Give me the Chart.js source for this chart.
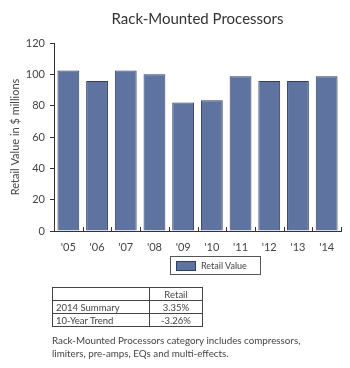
<!DOCTYPE html>
<html>
<head>
<meta charset="utf-8">
<script src="https://cdn.jsdelivr.net/npm/chart.js@4/dist/chart.umd.min.js"></script>
<style>
  body { margin: 0; background: #fff; font-family: Lato, "Noto Sans", sans-serif; color: #333; }
  #wrap { position: relative; width: 350px; height: 368px; }
  #chart { position: absolute; left: 0; top: 0; }
  #legend { position: absolute; left: 170px; top: 256px; width: 91px; height: 19px; border: 1px solid #555; box-sizing: border-box; font-size: 9px; color: #444; }
  #legend span.sw { position: absolute; left: 5px; top: 4px; width: 20px; height: 10px; background: #5f73a0; border: 1px solid #2e3d63; box-sizing: border-box; }
  #legend span.tx { position: absolute; left: 30px; top: 3px; }
  table { position: absolute; left: 52px; top: 287px; border-collapse: collapse; font-size: 9.5px; color: #444; }
  td { border: 1px solid #444; height: 12px; padding: 0 3px; line-height: 11px; }
  td.c1 { width: 90px; }
  td.c2 { width: 46px; text-align: center; }
  #note { position: absolute; left: 52px; top: 334px; width: 262px; font-size: 9.8px; line-height: 13px; color: #444; }
</style>
</head>
<body>
<div id="wrap">
  <canvas id="chart" width="350" height="260"></canvas>
  <div id="legend"><span class="sw"></span><span class="tx">Retail Value</span></div>
  <table>
    <tr><td class="c1"></td><td class="c2">Retail</td></tr>
    <tr><td class="c1">2014 Summary</td><td class="c2">3.35%</td></tr>
    <tr><td class="c1">10-Year Trend</td><td class="c2">-3.26%</td></tr>
  </table>
  <div id="note">Rack-Mounted Processors category includes compressors, limiters, pre-amps, EQs and multi-effects.</div>
</div>
<script>
var years = ["'05", "'06", "'07", "'08", "'09", "'10", "'11", "'12", "'13", "'14"];
var retailValue = [102.5, 95.7, 102.5, 100, 82, 83.5, 98.7, 95.7, 95.7, 98.7];
var yTicks = [0, 20, 40, 60, 80, 100, 120];

// little upward tick marks between the bars on the x axis
var upTicks = {
	id: 'upTicks',
	afterDraw: function(chart){
		var x = chart.scales.x;
		var ctx = chart.ctx;
		var y0 = x.top;
		ctx.save();
		ctx.strokeStyle = '#333';
		ctx.lineWidth = 1;
		ctx.beginPath();
		for(var i = 0; i < years.length; i++){
			var px = (x.getPixelForValue(i) + x.getPixelForValue(i + 1)) / 2;
			if(i == years.length - 1) px = x.right;
			px = Math.round(px) + 0.5;
			ctx.moveTo(px, y0);
			ctx.lineTo(px, y0 - 4);
		}
		ctx.stroke();
		ctx.restore();
	}
};

var ctx = document.getElementById('chart').getContext('2d');
var myChart = new Chart(ctx, {
	type: 'bar',
	data: {
		labels: years,
		datasets: [{
			label: 'Retail Value',
			data: retailValue,
			backgroundColor: '#5f73a0',
			borderColor: '#2e3d63',
			borderWidth: 1,
			barPercentage: 0.76,
			categoryPercentage: 1
		}]
	},
	options: {
		responsive: false,
		animation: false,
		layout: { padding: { left: 9, right: 9, top: 0, bottom: 7 } },
		plugins: {
			legend: { display: false },
			tooltip: { enabled: false },
			title: {
				display: true,
				fullSize: false,
				text: 'Rack-Mounted Processors',
				color: '#333',
				font: { family: 'Lato', size: 15, weight: 'normal' },
				padding: { top: 10, bottom: 15 }
			}
		},
		scales: {
			x: {
				grid: { display: false },
				border: { color: '#333', width: 1 },
				ticks: { color: '#444', font: { family: 'Lato', size: 11 }, padding: 2, maxRotation: 0 },
				afterFit: function(s){ s.height = 22; }
			},
			y: {
				min: 0,
				max: 120,
				afterBuildTicks: function(s){ s.ticks = yTicks.map(function(v){ return { value: v }; }); },
				grid: { drawOnChartArea: false, color: '#333', tickLength: 4 },
				border: { color: '#333', width: 1 },
				ticks: { color: '#444', font: { family: 'Lato', size: 11 }, padding: 5 },
				title: {
					display: true,
					text: 'Retail Value in $ millions',
					color: '#444',
					font: { family: 'Lato', size: 11 },
					padding: 0
				},
				afterFit: function(s){ s.width = 45; }
			}
		}
	},
	plugins: [upTicks]
});
</script>
</body>
</html>
